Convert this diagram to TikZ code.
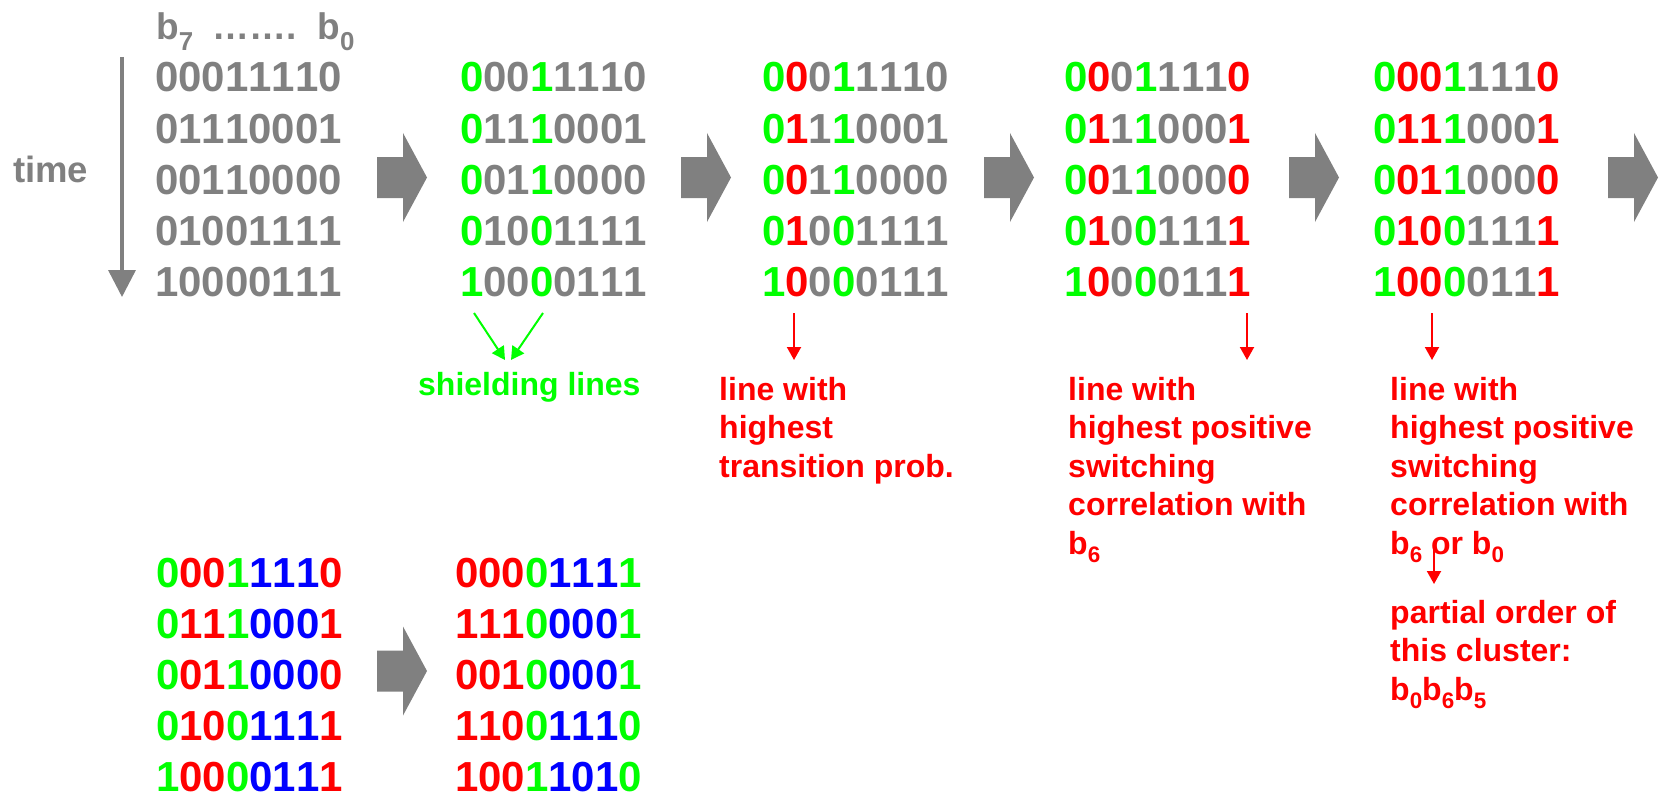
\documentclass[tikz,border=0pt]{standalone}
\usepackage{fontspec}
\setmainfont{Liberation Sans}
\usepackage{graphicx}
\usetikzlibrary{arrows.meta}

\definecolor{cG}{HTML}{00FF00}
\definecolor{cR}{HTML}{FF0000}
\definecolor{cB}{HTML}{0000FF}
\definecolor{cK}{HTML}{808080}

% one row of bits, each digit coloured by the matching letter of the pattern
\makeatletter
\def\bitrow#1#2{\edef\bit@tmp{\noexpand\bit@row#1\relax#2\relax}\bit@tmp}
\def\bit@row#1#2\relax#3#4\relax{\textcolor{c#1}{#3}\ifx\relax#2\relax\else\bit@row#2\relax#4\relax\fi}
\makeatother

% lowered, reduced index for bit names
\newcommand\bsub[1]{\raisebox{-0.28em}{\scalebox{0.7}{#1}}}

\tikzset{
  bits/.style={font=\fontsize{42}{51}\selectfont\bfseries, anchor=base west, inner sep=0pt},
  hdr/.style={font=\fontsize{37}{44}\selectfont\bfseries, text=cK, anchor=base west, inner sep=0pt},
  lbl/.style={font=\fontsize{32}{38.5}\selectfont\bfseries, anchor=base west, inner sep=0pt},
  pointer/.style={line width=2pt, -{Triangle[width=14pt,length=13pt]}},
}

% block of five words: name, x, first baseline, colour pattern, list macro of words
\newcommand\bitblock[5]{%
  \foreach \dig [count=\i] in #5{
    \node[bits] (#1-\i) at (#2,{#3+51*(\i-1)}) {\bitrow{#4}{\dig}};
  }}

% thick grey block arrow: left end x, centre y
\newcommand\fatarrow[2]{%
  \fill[cK] (#1,{#2-20.5}) -- ({#1+26},{#2-20.5}) -- ({#1+26},{#2-44.5})
    -- ({#1+50},#2) -- ({#1+26},{#2+44.5}) -- ({#1+26},{#2+20.5})
    -- (#1,{#2+20.5}) -- cycle;}

\begin{document}
\begin{tikzpicture}[x=1pt, y=-1pt]
\useasboundingbox (0,0) rectangle (1659,797);

% header and time axis
\node[hdr] (head) at (156,40) {b\bsub{7}\hspace{19pt}…….\hspace{21pt}b\bsub{0}};
\node[hdr, font=\fontsize{36.5}{44}\selectfont\bfseries] (time) at (13,182) {time};
\coordinate (t0) at (122,57);
\coordinate (t1) at (122,297);
\draw[cK, line width=3.5pt, -{Triangle[width=27pt,length=27pt]}] (t0) -- (t1);

% the five steps of the clustering
\def\words{00011110,01110001,00110000,01001111,10000111}
\def\reordered{00001111,11100001,00100001,11001110,10011010}
\bitblock{s1}{155}{92}{KKKKKKKK}{\words}
\bitblock{s2}{460}{92}{GKKGKKKK}{\words}
\bitblock{s3}{762}{92}{GRKGKKKK}{\words}
\bitblock{s4}{1064}{92}{GRKGKKKR}{\words}
\bitblock{s5}{1373}{92}{GRRGKKKR}{\words}

\fatarrow{377}{177.5}
\fatarrow{681}{177.5}
\fatarrow{984}{177.5}
\fatarrow{1289}{177.5}
\fatarrow{1608}{177.5}

% annotations below the steps
\coordinate (g1a) at (474,313); \coordinate (g1b) at (505,360);
\coordinate (g2a) at (543,313); \coordinate (g2b) at (511,360);
\draw[pointer, cG] (g1a) -- (g1b);
\draw[pointer, cG] (g2a) -- (g2b);
\node[lbl, text=cG] (shield) at (418,395) {shielding lines};

\coordinate (r3a) at (794,313); \coordinate (r3b) at (794,360);
\draw[pointer, cR] (r3a) -- (r3b);
\node[lbl, text=cR] (lab3) at (719,400)
  {\begin{tabular}[t]{@{}l@{}}line with\\highest\\transition prob.\end{tabular}};

\coordinate (r4a) at (1247,313); \coordinate (r4b) at (1247,360);
\draw[pointer, cR] (r4a) -- (r4b);
\node[lbl, text=cR] (lab4) at (1068,400)
  {\begin{tabular}[t]{@{}l@{}}line with\\highest positive\\switching\\correlation with\\b\bsub{6}\end{tabular}};

\coordinate (r5a) at (1432,313); \coordinate (r5b) at (1432,360);
\draw[pointer, cR] (r5a) -- (r5b);
\node[lbl, text=cR] (lab5) at (1390,400)
  {\begin{tabular}[t]{@{}l@{}}line with\\highest positive\\switching\\correlation with\\b\bsub{6} or b\bsub{0}\end{tabular}};

\coordinate (r6a) at (1434,547); \coordinate (r6b) at (1434,584);
\draw[pointer, cR] (r6a) -- (r6b);
\node[lbl, text=cR] (lab6) at (1390,623)
  {\begin{tabular}[t]{@{}l@{}}partial order of\\this cluster:\\b\bsub{0}b\bsub{6}b\bsub{5}\end{tabular}};

% final clustering and the resulting reordered bus
\bitblock{f1}{156}{587}{GRRGBBBR}{\words}
\bitblock{f2}{455}{587}{RRRGBBBG}{\reordered}
\fatarrow{377}{671}

\end{tikzpicture}
\end{document}
